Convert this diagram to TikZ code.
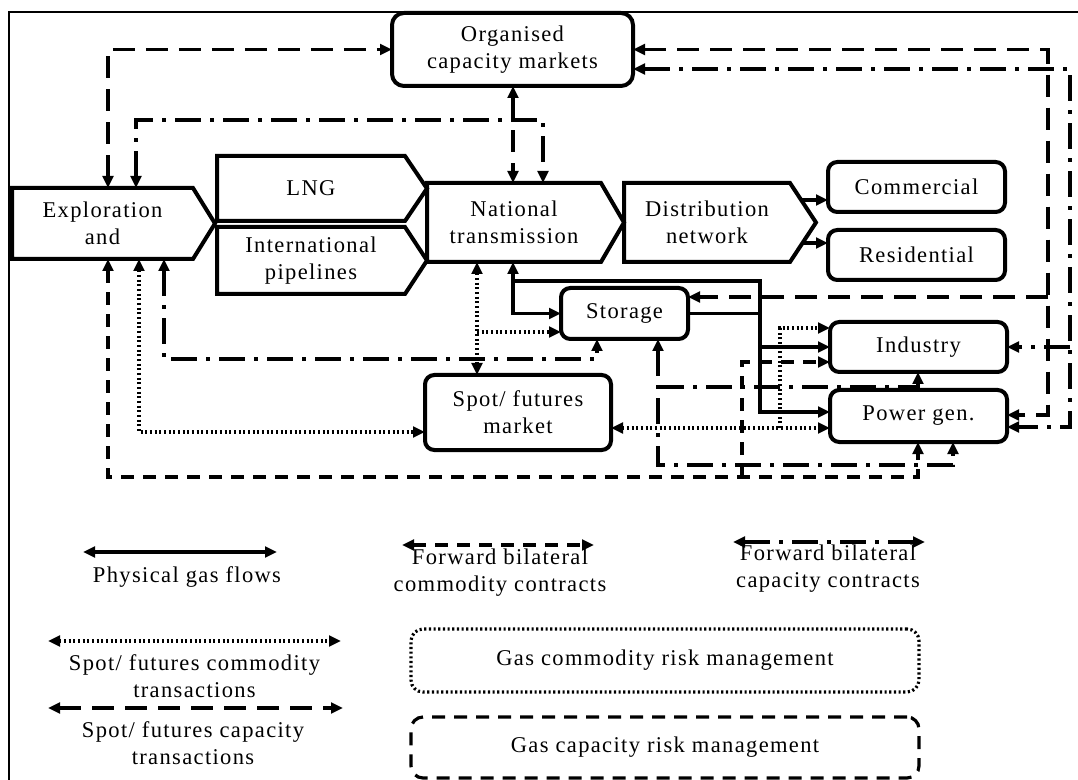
\documentclass[tikz,border=0pt]{standalone}
\usepackage{fontspec}
\setmainfont{Liberation Serif}[LetterSpace=6]
\usetikzlibrary{arrows.meta}

\tikzset{
    box/.style={draw, line width=3pt, rounded corners=7pt, inner sep=0pt, outer sep=0pt, align=center},
    pent/.style={inner sep=0pt, outer sep=0pt, align=center},
    rim/.style={line width=3pt},
    frame/.style={line width=1.6pt},
    phys/.style={line width=2.4pt},
    comspot/.style={line width=2.4pt, dash pattern=on 1.6pt off 1.9pt},
    capspot/.style={line width=2.4pt, dash pattern=on 16.5pt off 8.25pt},
    comfwd/.style={line width=2.4pt, dash pattern=on 9.75pt off 6.75pt},
    capfwd/.style={line width=2.4pt, dash pattern=on 19.5pt off 6.75pt on 3pt off 6.75pt},
    riskbox/.style={rounded corners=9pt, inner sep=0pt, minimum width=381pt}
}

\begin{document}
\begin{tikzpicture}[x=0.75pt, y=-0.75pt, font=\fontsize{16.9pt}{20.25pt}\selectfont, >={Triangle[length=9pt,width=8pt]}]
    \useasboundingbox (0,0) rectangle (1078,780);
    \draw[frame] (8.6,780) -- (8.6,11.7) -- (1078,11.7);

    \draw
    (512.5,49.5) node[box, rounded corners=9pt, minimum width=180.75pt, minimum height=54.75pt](org){Organised\\capacity markets}
    (102.5,223.5) node[pent, minimum width=135.75pt, minimum height=53.25pt](expl){Exploration\\and}
    (311,188.5) node[pent, minimum width=141pt, minimum height=48.75pt](lng){LNG}
    (311,260.5) node[pent, minimum width=141pt, minimum height=50.25pt](ip){International\\pipelines}
    (514,222.5) node[pent, minimum width=130.5pt, minimum height=59.25pt](nt){National\\transmission}
    (707,222.5) node[pent, minimum width=124.5pt, minimum height=59.25pt](dist){Distribution\\network}
    (916.5,187) node[box, minimum width=132.75pt, minimum height=37.5pt](com){Commercial}
    (916.5,255) node[box, minimum width=132.75pt, minimum height=37.5pt](res){Residential}
    (624.5,313.5) node[box, minimum width=95.25pt, minimum height=38.25pt](sto){Storage}
    (518,412.5) node[box, minimum width=139.5pt, minimum height=56.25pt](spot){Spot/ futures\\market}
    (918.5,347) node[box, minimum width=132.75pt, minimum height=37.5pt](ind){Industry}
    (918.5,416) node[box, minimum width=132.75pt, minimum height=39pt](pow){Power gen.};

    \draw[rim] (expl.north west) -- (expl.north east) -- ([xshift=16.5pt]expl.east) -- (expl.south east) -- (expl.south west) -- cycle;
    \draw[rim] (lng.north west) -- (lng.north east) -- ([xshift=16.5pt]lng.east) -- (lng.south east) -- (lng.south west) -- cycle;
    \draw[rim] (ip.north west) -- (ip.north east) -- ([xshift=16.5pt]ip.east) -- (ip.south east) -- (ip.south west) -- cycle;
    \draw[rim] (nt.north west) -- (nt.north east) -- ([xshift=17.25pt]nt.east) -- (nt.south east) -- (nt.south west) -- cycle;
    \draw[rim] (dist.north west) -- (dist.north east) -- ([xshift=19.5pt]dist.east) -- (dist.south east) -- (dist.south west) -- cycle;

    \coordinate (stobr) at (1048,297);
    \coordinate (indbr) at (1070,347);
    \coordinate (comout) at (801,200);
    \coordinate (resout) at (802.5,243);
    \coordinate (gasbr) at (513,281);
    \coordinate (indgas) at (760,347);
    \coordinate (stoout) at (760,313.5);
    \coordinate (spotbr) at (477,332);
    \coordinate (powbr) at (780,428);
    \coordinate (fwdbr) at (742,477);
    \coordinate (stobr2) at (658,387);

    \draw[capspot,<->] (expl.north -| 108,0) |- (org.west);
    \draw[capfwd,<->] (expl.north -| 136,0) |- (543,120) -- (nt.north -| 543,0);
    \draw[capspot,<->] (org.south -| 513,0) -- (nt.north -| 513,0);
    \draw[capspot,<->] (org.east) -| (1048,415) -- (pow.east |- 0,415);
    \draw[capspot,->] (stobr) -- (sto.east |- stobr);
    \draw[capfwd,<->] (org.east |- 0,69) -| (1070,427) -- (pow.east |- 0,427);
    \draw[capfwd,->] (indbr) -- (ind.east);

    \draw[phys,->] (comout) -- (com.west |- comout);
    \draw[phys,->] (resout) -- (res.west |- resout);
    \draw[phys,<->] (nt.south -| 513,0) |- (sto.west);
    \draw[phys,->] (gasbr) -| (760,412) -- (pow.west |- 0,412);
    \draw[phys,->] (indgas) -- (ind.west);
    \draw[phys] (sto.east) -- (stoout);

    \draw[comspot,<->] (nt.south -| 477,0) -- (spot.north -| 477,0);
    \draw[comspot,->] (spotbr) -- (sto.west |- spotbr);
    \draw[comspot,<->] (expl.south -| 139,0) |- (spot.west |- 0,432);
    \draw[comspot,<->] (spot.east |- 0,428) -- (pow.west |- 0,428);
    \draw[comspot,->] (powbr) |- (ind.west |- 0,328);

    \draw[capfwd,<->] (expl.south -| 164,0) |- (597,359) -- (sto.south -| 597,0);
    \draw[comfwd,<->] (expl.south -| 108,0) |- (918,477) -- (pow.south -| 918,0);
    \draw[comfwd,->] (fwdbr) |- (ind.west |- 0,362);
    \draw[capfwd,<->] (sto.south -| 658,0) |- (953,465) -- (pow.south -| 953,0);
    \draw[capfwd,->] (stobr2) -| (ind.south -| 918,0);

    \coordinate (physa) at (83,552);
    \coordinate (physb) at (277,552);
    \coordinate (comspa) at (48,641);
    \coordinate (comspb) at (341,641);
    \coordinate (capspa) at (48,708);
    \coordinate (capspb) at (343,708);
    \coordinate (comfwda) at (402,545);
    \coordinate (comfwdb) at (594,545);
    \coordinate (capfwda) at (733,542);
    \coordinate (capfwdb) at (925,542);

    \draw[phys,<->] (physa) -- (physb);
    \draw[comspot,<->] (comspa) -- (comspb);
    \draw[capspot,<->] (capspa) -- (capspb);
    \draw[comfwd,<->] (comfwda) -- (comfwdb);
    \draw[capfwd,<->] (capfwda) -- (capfwdb);

    \draw
    (187,577) node(physlbl){Physical gas flows}
    (194.5,676.5) node[align=center](comsplbl){Spot/ futures commodity\\transactions}
    (193,743.5) node[align=center](capsplbl){Spot/ futures capacity\\transactions}
    (500,572.5) node[align=center](comfwdlbl){Forward bilateral\\commodity contracts}
    (828,569) node[align=center](capfwdlbl){Forward bilateral\\capacity contracts}
    (665,660.5) node[riskbox, draw, comspot, minimum height=47.25pt](comrisk){Gas commodity risk management}
    (665,747.5) node[riskbox, draw, comfwd, minimum height=45.75pt](caprisk){Gas capacity risk management};
\end{tikzpicture}
\end{document}
